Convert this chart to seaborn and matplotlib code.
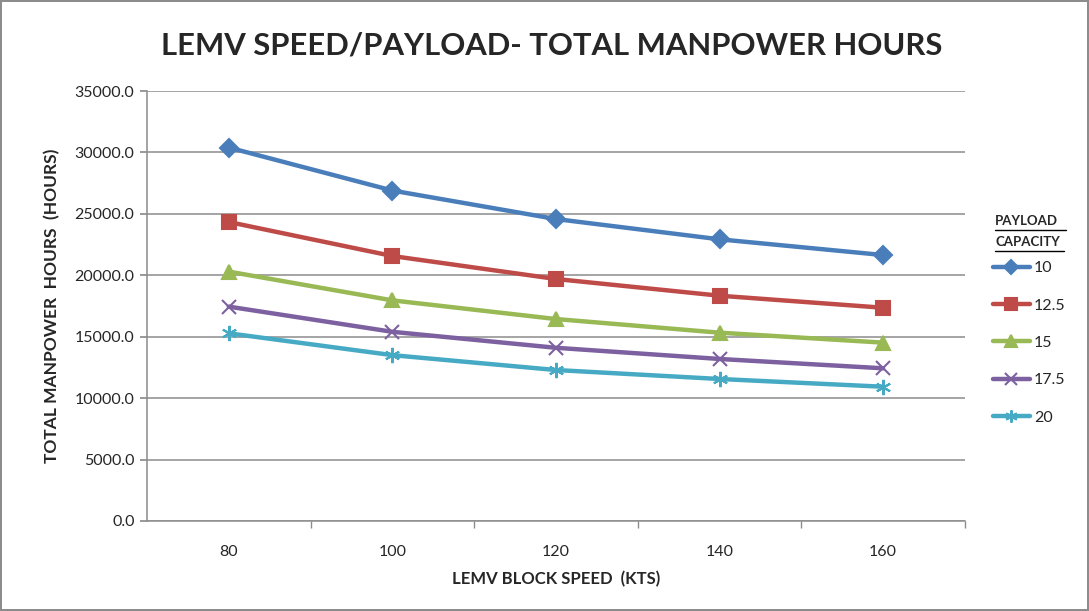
import pandas as pd
import matplotlib
matplotlib.use("Agg")
import matplotlib.pyplot as plt
from matplotlib.lines import Line2D
from matplotlib.ticker import MultipleLocator, FixedLocator, FormatStrFormatter
import seaborn as sns

# data
speeds = [80, 100, 120, 140, 160]
payloads = ["10", "12.5", "15", "17.5", "20"]
hours_10 = [30400, 26900, 24580, 22930, 21650]
hours_12_5 = [24340, 21570, 19700, 18340, 17360]
hours_15 = [20300, 17960, 16440, 15330, 14520]
hours_17_5 = [17450, 15400, 14100, 13190, 12430]
hours_20 = [15280, 13500, 12290, 11560, 10930]

colors = ["#4A7EBB", "#BE4B48", "#98B954", "#7D60A0", "#46AAC5"]
markers = ["D", "s", "^", "x", (6, 2, 0)]
msizes = [9, 10, 10, 10, 11]

rows = []
for p, vals in zip(payloads, [hours_10, hours_12_5, hours_15, hours_17_5, hours_20]):
    for s, v in zip(speeds, vals):
        rows.append({"speed": s, "payload": p, "hours": v})
df = pd.DataFrame(rows)

sns.set_theme(style="white")
plt.rcParams["font.family"] = ["Lato", "DejaVu Sans"]

fig = plt.figure(figsize=(10.89, 6.11), dpi=100)
fig.patch.set_edgecolor("#8c8c8c")
fig.patch.set_linewidth(1.5)
ax = fig.add_axes([0.135, 0.1473, 0.751, 0.7037])

for p, c, m, ms in zip(payloads, colors, markers, msizes):
    sub = df[df["payload"] == p]
    sns.lineplot(data=sub, x="speed", y="hours", color=c, marker=m,
                 markersize=ms, markeredgecolor=c, markeredgewidth=1.5,
                 linewidth=3.2, label=p, ax=ax)

ax.set_xlim(70, 170)
ax.set_ylim(0, 35000)
ax.set_xticks(speeds)
ax.xaxis.set_minor_locator(FixedLocator([90, 110, 130, 150, 170]))
ax.yaxis.set_major_locator(MultipleLocator(5000))
ax.yaxis.set_major_formatter(FormatStrFormatter("%.1f"))
ax.grid(axis="y", color="#8c8c8c", linewidth=1.1)
ax.set_axisbelow(True)
for side in ["top", "right"]:
    ax.spines[side].set_visible(False)
for side in ["left", "bottom"]:
    ax.spines[side].set_color("#8c8c8c")
    ax.spines[side].set_linewidth(1.1)
ax.tick_params(axis="y", which="major", left=True, length=5, color="#8c8c8c",
               labelsize=11.5, pad=4)
ax.tick_params(axis="x", which="major", bottom=False, labelsize=11.5, pad=11)
ax.tick_params(axis="x", which="minor", bottom=True, length=5, color="#8c8c8c")

ax.set_xlabel("LEMV BLOCK SPEED  (KTS)", fontsize=12, fontweight="bold", labelpad=9)
ax.set_ylabel("TOTAL MANPOWER  HOURS  (HOURS)", fontsize=12.5, fontweight="bold", labelpad=10)

fig.text(0.507, 0.926, "LEMV SPEED/PAYLOAD- TOTAL MANPOWER HOURS",
         ha="center", va="center", fontsize=22.3, fontweight="bold")

handles, labels = ax.get_legend_handles_labels()
ax.get_legend().remove()
fig.legend(handles, labels, loc="upper left", bbox_to_anchor=(0.906, 0.583),
           frameon=False, fontsize=11.5, handlelength=2.3, labelspacing=1.45,
           handletextpad=0.25, borderaxespad=0, markerscale=0.8)

# legend title with underline
fig.text(0.9137, 0.6385, "PAYLOAD", fontsize=9.5, fontweight="bold", va="center")
fig.text(0.9137, 0.604, "CAPACITY", fontsize=9.5, fontweight="bold", va="center")
fig.add_artist(Line2D([0.9137, 0.979], [0.6235, 0.6235], color="black", lw=1))
fig.add_artist(Line2D([0.9137, 0.977], [0.590, 0.590], color="black", lw=1))

fig.savefig("out.png", dpi=100)
